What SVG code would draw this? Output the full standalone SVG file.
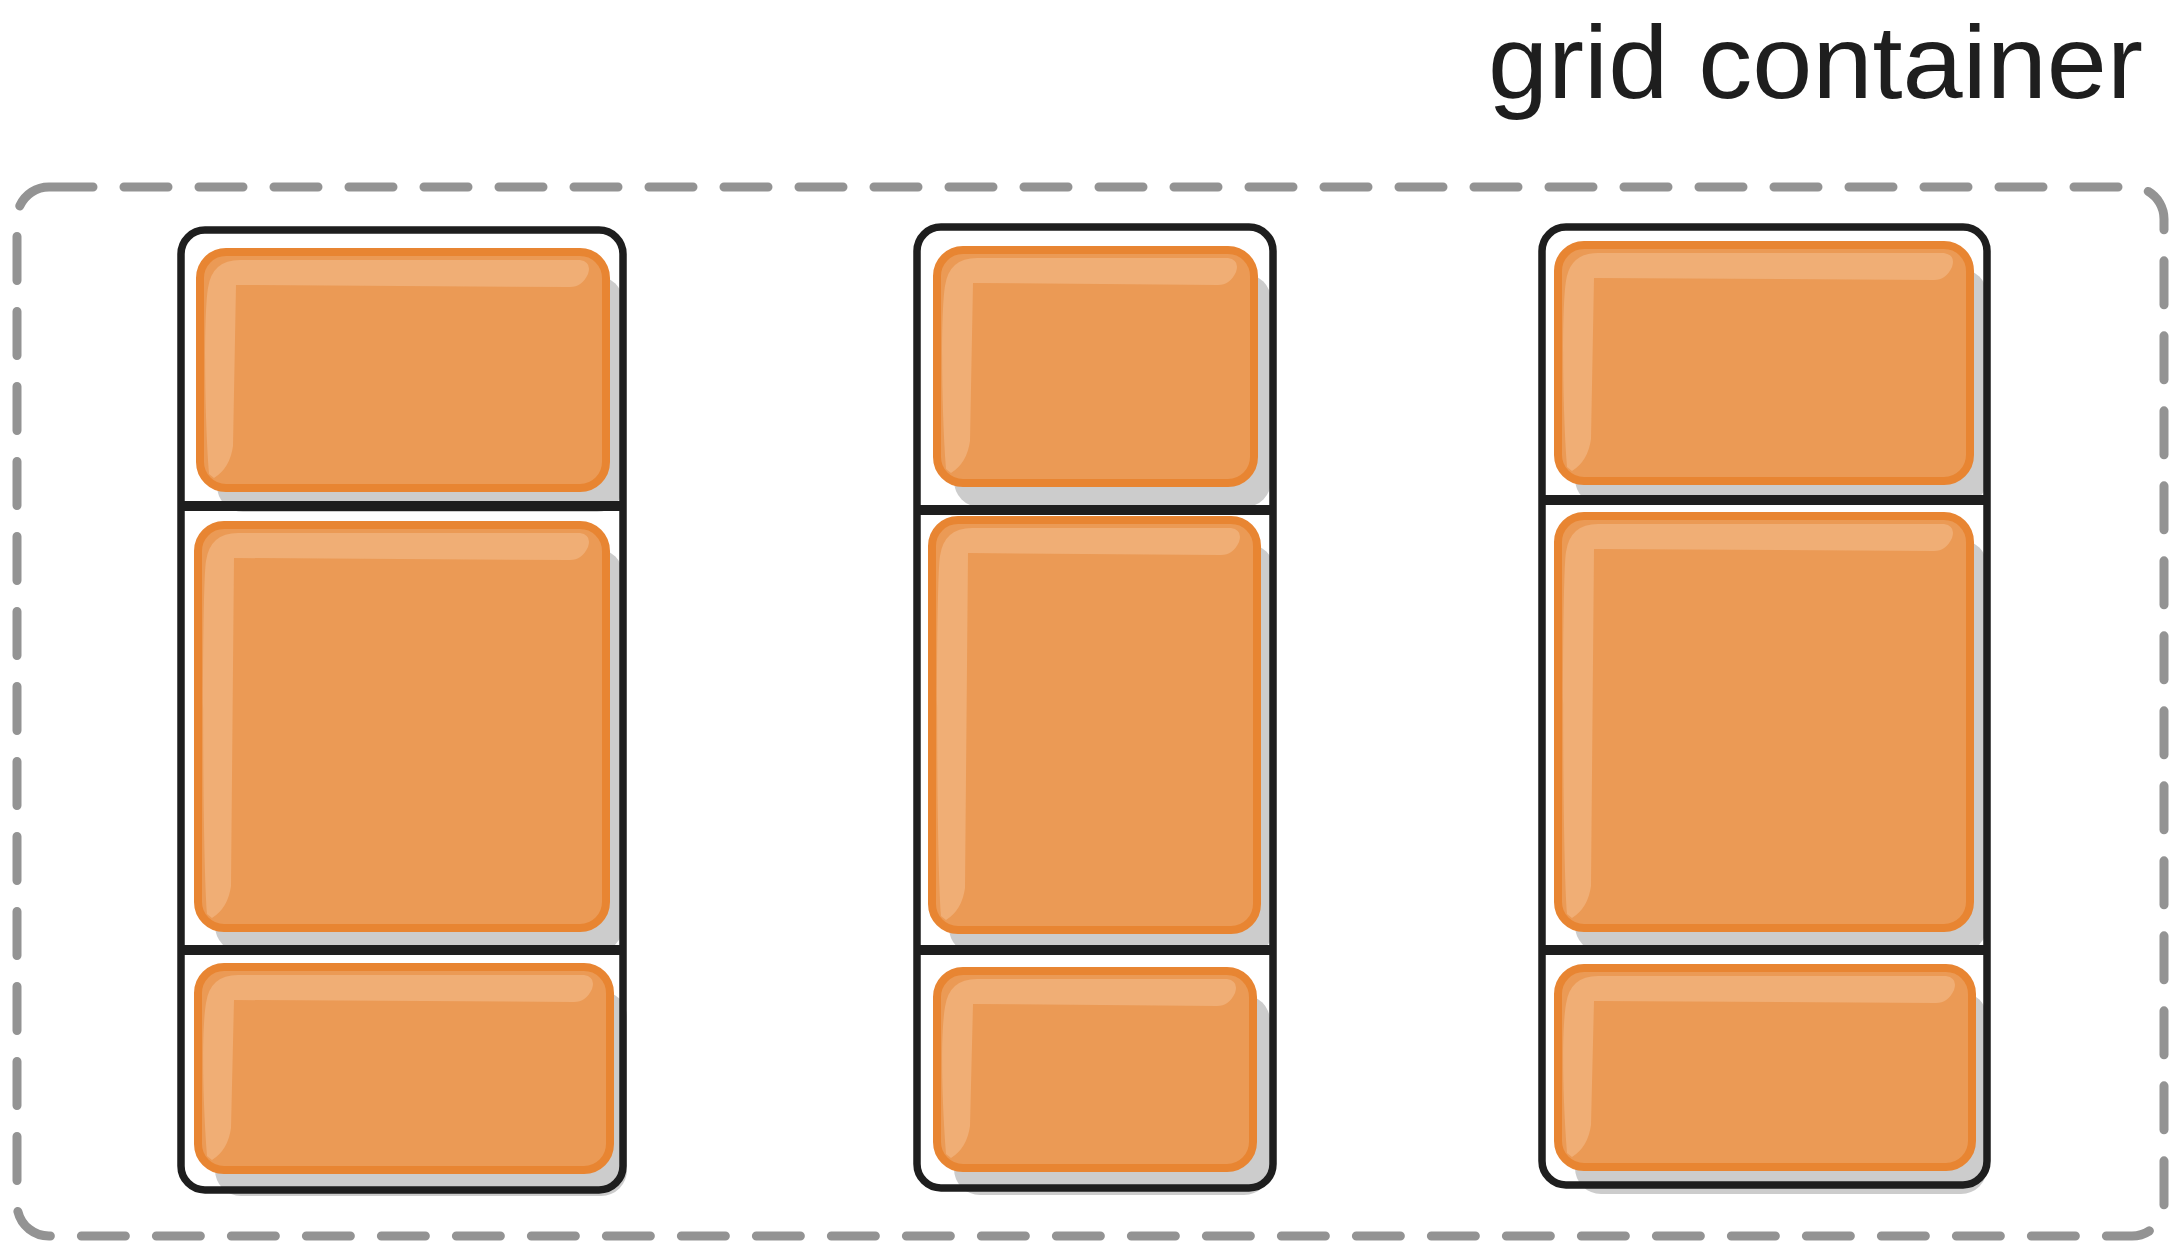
<svg xmlns="http://www.w3.org/2000/svg" width="2178" height="1258" viewBox="0 0 2178 1258">
<style>
.frame{fill:none;stroke:#939393;stroke-width:9;stroke-dasharray:44 31;stroke-linecap:round}
.col{fill:none;stroke:#1e1e1e;stroke-width:7.5;stroke-linejoin:round}
.div{stroke:#1e1e1e;stroke-width:10;stroke-linecap:butt}
.sh{fill:#cccccc}
.fill{fill:#eb9a55}
.hl{fill:#f0ae75}
.edge{fill:none;stroke:#e88532;stroke-width:8}
.title{font-family:"Liberation Sans","Noto Sans",sans-serif;font-size:104px;fill:#1e1e1e}
</style>
<rect width="2178" height="1258" fill="#ffffff"/>
<g id="grid-container">
<rect class="frame" x="17" y="187" width="2147" height="1049" rx="32"/>
<text class="title" x="1488" y="98" textLength="655" lengthAdjust="spacingAndGlyphs">grid container</text>
</g>
<g id="connectors"/>
<g id="column-1">
<rect class="sh" x="217" y="276" width="406" height="236" rx="26"/>
<rect class="sh" x="215" y="549" width="408" height="403" rx="26"/>
<rect class="sh" x="215" y="991" width="412" height="205" rx="26"/>
<g id="item-1-1">
<rect class="fill" x="200" y="252" width="406" height="236" rx="26"/>
<path class="hl" d="M209,474 C204,408 204,312 208,288 Q212,260 240,260 L580,260 Q592,262 588,274 Q582,287 570,287 L236,285 L233,446 Q230,468 214,478 Z"/>
<rect class="edge" x="200" y="252" width="406" height="236" rx="26"/>
</g>
<g id="item-1-2">
<rect class="fill" x="198" y="525" width="408" height="403" rx="26"/>
<path class="hl" d="M207,914 C202,848 202,585 206,561 Q210,533 238,533 L580,533 Q592,535 588,547 Q582,560 570,560 L234,558 L231,886 Q228,908 212,918 Z"/>
<rect class="edge" x="198" y="525" width="408" height="403" rx="26"/>
</g>
<g id="item-1-3">
<rect class="fill" x="198" y="967" width="412" height="203" rx="26"/>
<path class="hl" d="M207,1156 C202,1090 202,1027 206,1003 Q210,975 238,975 L584,975 Q596,977 592,989 Q586,1002 574,1002 L234,1000 L231,1128 Q228,1150 212,1160 Z"/>
<rect class="edge" x="198" y="967" width="412" height="203" rx="26"/>
</g>
<rect class="col" x="181" y="230" width="442" height="960" rx="24"/>
<line class="div" x1="181" y1="506" x2="623" y2="506"/>
<line class="div" x1="181" y1="950" x2="623" y2="950"/>
</g>
<g id="column-2">
<rect class="sh" x="954" y="274" width="317" height="233" rx="26"/>
<rect class="sh" x="949" y="544" width="325" height="410" rx="26"/>
<rect class="sh" x="954" y="995" width="316" height="200" rx="26"/>
<g id="item-2-1">
<rect class="fill" x="937" y="250" width="317" height="233" rx="26"/>
<path class="hl" d="M946,469 C941,403 941,310 945,286 Q949,258 977,258 L1228,258 Q1240,260 1236,272 Q1230,285 1218,285 L973,283 L970,441 Q967,463 951,473 Z"/>
<rect class="edge" x="937" y="250" width="317" height="233" rx="26"/>
</g>
<g id="item-2-2">
<rect class="fill" x="932" y="520" width="325" height="410" rx="26"/>
<path class="hl" d="M941,916 C936,850 936,580 940,556 Q944,528 972,528 L1231,528 Q1243,530 1239,542 Q1233,555 1221,555 L968,553 L965,888 Q962,910 946,920 Z"/>
<rect class="edge" x="932" y="520" width="325" height="410" rx="26"/>
</g>
<g id="item-2-3">
<rect class="fill" x="937" y="971" width="316" height="197" rx="26"/>
<path class="hl" d="M946,1154 C941,1088 941,1031 945,1007 Q949,979 977,979 L1227,979 Q1239,981 1235,993 Q1229,1006 1217,1006 L973,1004 L970,1126 Q967,1148 951,1158 Z"/>
<rect class="edge" x="937" y="971" width="316" height="197" rx="26"/>
</g>
<rect class="col" x="917" y="227" width="356" height="961" rx="24"/>
<line class="div" x1="917" y1="510" x2="1273" y2="510"/>
<line class="div" x1="917" y1="950" x2="1273" y2="950"/>
</g>
<g id="column-3">
<rect class="sh" x="1575" y="269" width="412" height="236" rx="26"/>
<rect class="sh" x="1575" y="540" width="412" height="412" rx="26"/>
<rect class="sh" x="1575" y="992" width="412" height="202" rx="26"/>
<g id="item-3-1">
<rect class="fill" x="1558" y="245" width="412" height="236" rx="26"/>
<path class="hl" d="M1567,467 C1562,401 1562,305 1566,281 Q1570,253 1598,253 L1944,253 Q1956,255 1952,267 Q1946,280 1934,280 L1594,278 L1591,439 Q1588,461 1572,471 Z"/>
<rect class="edge" x="1558" y="245" width="412" height="236" rx="26"/>
</g>
<g id="item-3-2">
<rect class="fill" x="1558" y="516" width="412" height="412" rx="26"/>
<path class="hl" d="M1567,914 C1562,848 1562,576 1566,552 Q1570,524 1598,524 L1944,524 Q1956,526 1952,538 Q1946,551 1934,551 L1594,549 L1591,886 Q1588,908 1572,918 Z"/>
<rect class="edge" x="1558" y="516" width="412" height="412" rx="26"/>
</g>
<g id="item-3-3">
<rect class="fill" x="1558" y="968" width="414" height="199" rx="26"/>
<path class="hl" d="M1567,1153 C1562,1087 1562,1028 1566,1004 Q1570,976 1598,976 L1946,976 Q1958,978 1954,990 Q1948,1003 1936,1003 L1594,1001 L1591,1125 Q1588,1147 1572,1157 Z"/>
<rect class="edge" x="1558" y="968" width="414" height="199" rx="26"/>
</g>
<rect class="col" x="1542" y="227" width="445" height="958" rx="24"/>
<line class="div" x1="1542" y1="500" x2="1987" y2="500"/>
<line class="div" x1="1542" y1="950" x2="1987" y2="950"/>
</g>
</svg>
